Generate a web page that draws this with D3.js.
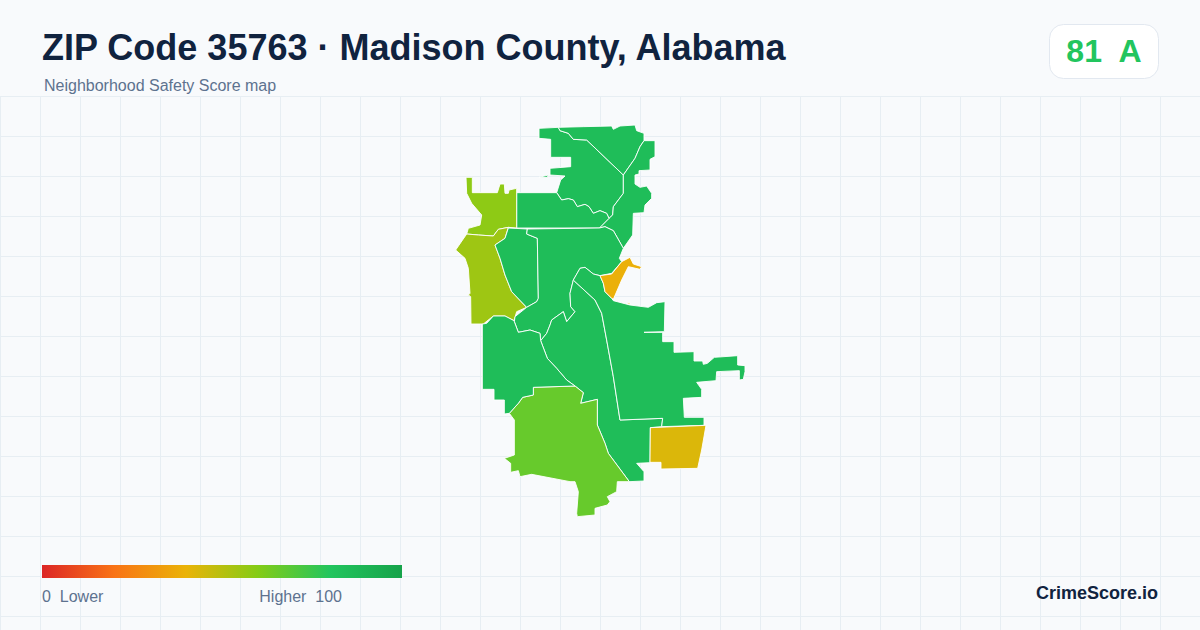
<!DOCTYPE html>
<html>
<head>
<meta charset="utf-8">
<title>ZIP Code 35763</title>
<script src="https://cdn.jsdelivr.net/npm/d3@7"></script>
<style>
  html, body { margin: 0; padding: 0; background: #f8fafc; }
  svg { display: block; }
  text { font-family: "Liberation Sans", Arial, sans-serif; white-space: pre; }
</style>
</head>
<body>
<svg id="chart" width="1200" height="630"></svg>
<script>
// header and legend text
const titleText = "ZIP Code 35763 · Madison County, Alabama";
const subtitleText = "Neighborhood Safety Score map";
const badgeText = "81  A";
const legendLow = "0  Lower";
const legendHigh = "Higher  100";
const brandText = "CrimeScore.io";

// colour ramp stops for the score
const rampStops = [0, 20, 40, 60, 80, 100];
const rampColors = ["#dc2626", "#f97316", "#eab308", "#84cc16", "#22c55e", "#16a34a"];

// neighborhoods, score per area, traced outlines in map units
const areaNames = ["north", "northEast", "east", "northMid", "westTop", "westEdge", "westInner",
  "center", "middle", "southEast", "bend", "square", "south", "southWest"];
const areaScores = [85, 85, 85, 85, 58, 55, 85, 85, 85, 85, 39, 43, 66, 85];
const areaRings = [
  [[[297,55],[355,52],[360,62],[385,70],[400,88],[440,90],[550,195],[550,250],[520,290],[518,315],[507,325],[500,310],[480,302],[460,310],[447,290],[435,283],[412,290],[400,270],[385,266],[365,270],[350,248],[362,210],[375,198],[330,195],[330,175],[392,170],[392,142],[332,142],[332,88],[297,85]],
   [[297,202],[325,195],[322,202]]],
  [[[355,52],[430,50],[515,48],[520,58],[540,48],[585,45],[590,62],[612,70],[612,92],[600,110],[585,145],[550,195],[440,90],[400,88],[385,70],[360,62]]],
  [[[612,92],[645,92],[645,140],[630,148],[630,180],[597,182],[597,192],[585,195],[585,222],[600,232],[620,228],[635,250],[635,265],[615,285],[612,308],[580,310],[578,375],[550,415],[520,362],[495,350],[478,354],[507,325],[518,315],[520,290],[550,250],[550,195],[585,145],[600,110]]],
  [[[230,248],[350,248],[365,270],[385,266],[400,270],[412,290],[435,283],[447,290],[460,310],[480,302],[500,310],[507,325],[478,354],[230,354]]],
  [[[78,202],[97,202],[97,248],[172,248],[180,222],[193,222],[195,250],[205,250],[207,240],[230,235],[230,354],[205,352],[175,358],[160,378],[115,375],[80,372],[85,355],[120,345],[125,315],[95,280],[80,250]]],
  [[[80,372],[115,375],[160,378],[175,358],[205,352],[195,385],[165,405],[180,445],[195,495],[215,545],[260,592],[230,605],[222,632],[195,618],[160,618],[130,642],[93,642],[92,560],[85,555],[90,550],[85,475],[75,445],[47,420]]],
  [[[205,354],[262,357],[260,372],[292,385],[295,565],[290,575],[260,592],[215,545],[195,495],[180,445],[165,405],[195,385]]],
  [[[262,357],[478,354],[495,350],[520,362],[550,415],[538,445],[545,455],[515,490],[480,497],[460,492],[435,472],[420,475],[400,510],[390,550],[392,590],[405,605],[380,635],[370,605],[335,630],[330,645],[320,670],[302,692],[300,670],[270,660],[235,667],[223,635],[225,620],[260,592],[290,575],[295,565],[292,385],[260,372]]],
  [[[400,510],[405,515],[465,570],[485,610],[500,690],[520,800],[540,930],[668,925],[665,950],[631,953],[630,1058],[590,1060],[612,1085],[612,1113],[568,1115],[505,1030],[495,1000],[472,945],[472,868],[422,880],[430,848],[405,828],[380,810],[350,775],[322,745],[302,692],[320,670],[330,645],[335,630],[370,605],[380,635],[405,605],[392,590],[390,550]]],
  [[[400,510],[420,475],[435,472],[460,492],[480,497],[490,520],[495,545],[515,565],[520,572],[570,585],[625,592],[650,578],[675,575],[673,665],[612,667],[668,667],[668,695],[702,695],[702,727],[762,725],[762,753],[788,753],[790,763],[802,760],[823,742],[893,737],[893,765],[915,767],[915,785],[910,808],[898,810],[898,782],[830,785],[828,812],[770,817],[785,838],[785,862],[730,865],[733,922],[792,922],[792,946],[665,950],[668,925],[540,930],[520,800],[500,690],[485,610],[465,570],[405,515]]],
  [[[480,497],[515,492],[545,455],[570,442],[580,462],[605,470],[600,478],[565,470],[545,510],[520,568],[515,565],[495,545],[490,520]],
   [[563,578],[570,578],[570,582],[564,582]]],
  [[[631,953],[798,946],[785,1020],[773,1075],[663,1077],[663,1057],[630,1057]]],
  [[[208,910],[223,930],[223,1035],[193,1045],[212,1060],[212,1087],[235,1082],[240,1100],[275,1093],[390,1115],[405,1115],[415,1145],[410,1210],[412,1220],[465,1215],[465,1195],[502,1185],[510,1175],[502,1160],[530,1145],[532,1115],[568,1115],[505,1030],[495,1000],[472,945],[472,868],[422,880],[430,848],[405,828],[280,832],[280,855],[248,862],[235,880]]],
  [[[127,642],[140,640],[160,618],[195,618],[222,632],[223,635],[235,667],[270,660],[300,670],[302,692],[322,745],[350,775],[380,810],[405,828],[280,832],[280,855],[248,862],[235,880],[208,910],[193,912],[193,870],[162,870],[162,838],[127,838]]]
];

const width = 1200;
const height = 630;
const svg = d3.select("#chart");

const scoreColor = d3.scaleLinear().domain(rampStops).range(rampColors);

// background grid below the header
const gridGroup = svg.append("g").attr("stroke", "#e7eef3").attr("stroke-width", 1);
gridGroup.selectAll("line.v")
  .data(d3.range(0, width, 40))
  .enter().append("line")
  .attr("class", "v")
  .attr("x1", d => d + 0.5).attr("x2", d => d + 0.5)
  .attr("y1", 96).attr("y2", height);
gridGroup.selectAll("line.h")
  .data(d3.range(96, height, 40))
  .enter().append("line")
  .attr("class", "h")
  .attr("x1", 0).attr("x2", width)
  .attr("y1", d => d + 0.5).attr("y2", d => d + 0.5);

// map units to page position
const mapX = d3.scaleLinear().domain([0, 900]).range([440, 740]);
const mapY = d3.scaleLinear().domain([0, 1230]).range([110, 520]);
const ringLine = d3.line().x(d => mapX(d[0])).y(d => mapY(d[1]));

svg.append("g")
  .selectAll("path")
  .data(areaNames)
  .enter().append("path")
  .attr("data-area", d => d)
  .attr("d", (d, i) => areaRings[i].map(r => ringLine(r) + "Z").join(""))
  .attr("fill", (d, i) => scoreColor(areaScores[i]))
  .attr("stroke", "#ffffff")
  .attr("stroke-width", 0.9)
  .attr("stroke-linejoin", "round");

// header
svg.append("text").attr("x", 42).attr("y", 60)
  .attr("font-size", 36).attr("font-weight", 700).attr("fill", "#10233f")
  .text(titleText);
svg.append("text").attr("x", 44).attr("y", 91)
  .attr("font-size", 16).attr("fill", "#5d728f")
  .text(subtitleText);

// score badge
svg.append("rect")
  .attr("x", 1049.5).attr("y", 24.5).attr("width", 109).attr("height", 54).attr("rx", 14)
  .attr("fill", "#ffffff").attr("stroke", "#e2e8f0");
svg.append("text").attr("x", 1104).attr("y", 62).attr("text-anchor", "middle")
  .attr("font-size", 32).attr("font-weight", 700).attr("fill", "#22c55e")
  .text(badgeText);

// legend
const legendX = d3.scaleLinear().domain([0, 100]).range([42, 402]);
const grad = svg.append("defs").append("linearGradient").attr("id", "ramp");
grad.selectAll("stop")
  .data(rampStops)
  .enter().append("stop")
  .attr("offset", d => d + "%")
  .attr("stop-color", d => scoreColor(d));
svg.append("rect")
  .attr("x", legendX(0)).attr("y", 565)
  .attr("width", legendX(100) - legendX(0)).attr("height", 13)
  .attr("fill", "url(#ramp)");
svg.append("text").attr("x", 42).attr("y", 602)
  .attr("font-size", 16).attr("fill", "#5d728f").text(legendLow);
svg.append("text").attr("x", 342).attr("y", 602).attr("text-anchor", "end")
  .attr("font-size", 16).attr("fill", "#5d728f").text(legendHigh);

// brand
svg.append("text").attr("x", 1158).attr("y", 599).attr("text-anchor", "end")
  .attr("font-size", 18).attr("font-weight", 700).attr("fill", "#10233f")
  .text(brandText);
</script>
</body>
</html>
